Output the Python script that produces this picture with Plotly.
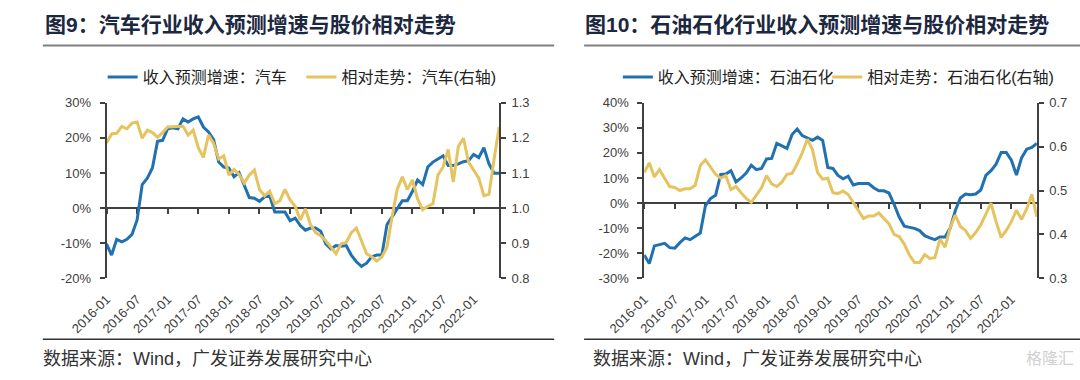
import plotly.graph_objects as go

# ---------------- data ----------------
months = [f"{y}-{m:02d}" for y in range(2016, 2023) for m in range(1, 13)][:78]  # 2016-01 .. 2022-06
tick_labels = ["2016-01", "2016-07", "2017-01", "2017-07", "2018-01", "2018-07", "2019-01",
               "2019-07", "2020-01", "2020-07", "2021-01", "2021-07", "2022-01"]
left_pct_ticks = [-20, -10, 0, 10, 20, 30]
left_ratio_ticks = [0.8, 0.9, 1.0, 1.1, 1.2, 1.3]
right_pct_ticks = [-30, -20, -10, 0, 10, 20, 30, 40]
right_ratio_ticks = [0.3, 0.4, 0.5, 0.6, 0.7]

auto_rev_growth = [-10.2, -13.4, -8.9, -9.6, -8.9, -7.5, -3.4, 6.7, 8.5, 11.4, 19.0, 19.3, 22.6, 22.9, 22.6,
                   25.4, 24.5, 25.4, 26.0, 23.1, 21.7, 19.5, 13.1, 11.7, 11.4, 8.9, 10.1, 6.7, 3.0, 2.8,
                   1.9, 3.2, 3.5, -1.1, -1.1, -1.1, -3.6, -2.9, -5.0, -6.3, -5.7, -5.7, -6.6, -10.2, -11.6,
                   -10.7, -10.9, -10.7, -13.4, -15.3, -16.6, -15.7, -13.9, -13.4, -13.4, -4.7, -2.5, -0.2,
                   2.1, 2.1, 4.8, 8.0, 6.7, 11.7, 13.1, 14.0, 14.9, 12.1, 12.1, 12.6, 13.2, 13.5, 15.3,
                   14.4, 17.2, 12.6, 9.9, 9.9]
auto_rel_trend = [1.185, 1.211, 1.213, 1.233, 1.226, 1.242, 1.245, 1.199, 1.222, 1.215, 1.202, 1.215, 1.231,
                  1.231, 1.233, 1.233, 1.208, 1.222, 1.172, 1.144, 1.208, 1.185, 1.140, 1.149, 1.094, 1.110,
                  1.096, 1.071, 1.094, 1.108, 1.053, 1.035, 1.048, 1.012, 1.021, 1.053, 1.023, 1.005, 0.966,
                  0.998, 0.953, 0.930, 0.921, 0.907, 0.889, 0.870, 0.898, 0.902, 0.930, 0.943, 0.907, 0.870,
                  0.861, 0.849, 0.861, 0.889, 0.975, 1.053, 1.089, 1.053, 1.080, 1.026, 0.995, 1.005, 1.012,
                  1.094, 1.117, 1.167, 1.074, 1.176, 1.199, 1.131, 1.108, 1.085, 1.035, 1.039, 1.140, 1.231]

petro_rev_growth = [-20.7, -24.1, -17.1, -16.5, -16.1, -17.8, -18.0, -15.8, -13.9, -14.6, -13.3, -12.0, -1.1,
                    1.8, 3.1, 11.4, 11.6, 12.9, 8.4, 10.0, 12.0, 15.1, 13.3, 13.8, 17.6, 17.8, 23.8, 22.9,
                    21.8, 27.3, 29.5, 26.9, 26.1, 25.0, 26.3, 25.0, 14.2, 13.8, 11.0, 9.7, 10.7, 7.2, 7.8,
                    7.8, 7.8, 6.1, 4.9, 4.9, 4.0, -0.5, -5.6, -9.2, -9.5, -10.1, -11.0, -13.0, -13.9, -14.6,
                    -13.5, -13.5, -10.0, -3.1, 2.0, 3.6, 3.3, 3.6, 5.2, 11.0, 12.9, 15.5, 20.2, 20.2, 17.1,
                    11.2, 18.0, 21.5, 22.2, 23.8]
petro_rel_trend = [0.541, 0.563, 0.531, 0.548, 0.528, 0.509, 0.507, 0.500, 0.504, 0.504, 0.512, 0.557, 0.570,
                   0.553, 0.537, 0.528, 0.534, 0.502, 0.509, 0.495, 0.482, 0.473, 0.491, 0.506, 0.534, 0.515,
                   0.509, 0.519, 0.537, 0.539, 0.561, 0.586, 0.617, 0.593, 0.541, 0.526, 0.528, 0.495, 0.493,
                   0.499, 0.491, 0.473, 0.453, 0.436, 0.442, 0.442, 0.449, 0.436, 0.424, 0.400, 0.395, 0.378,
                   0.353, 0.336, 0.336, 0.354, 0.345, 0.347, 0.389, 0.371, 0.415, 0.444, 0.418, 0.409, 0.391,
                   0.404, 0.422, 0.446, 0.471, 0.429, 0.393, 0.409, 0.429, 0.455, 0.434, 0.458, 0.491, 0.440]

BLUE = "#2171b0"
GOLD = "#e5c35f"
AXC = "#404040"
FONT = "Liberation Sans, Noto Sans CJK SC, sans-serif"
W, H = 1080, 380


def px_x(x):
    return x / W


def px_y(y):
    return 1 - y / H


fig = go.Figure()
empty = [None] * len(months)

# ---- left chart ----
fig.add_trace(go.Scatter(x=months, y=auto_rev_growth, name="收入预测增速：汽车", mode="lines",
                         line=dict(color=BLUE, width=3), xaxis="x", yaxis="y", legend="legend"))
fig.add_trace(go.Scatter(x=months, y=auto_rel_trend, name="相对走势：汽车(右轴)", mode="lines",
                         line=dict(color=GOLD, width=3), xaxis="x", yaxis="y2", legend="legend2"))
fig.add_trace(go.Scatter(x=months, y=empty, xaxis="x2", yaxis="y", showlegend=False, hoverinfo="skip",
                         mode="lines"))

# ---- right chart ----
fig.add_trace(go.Scatter(x=months, y=petro_rev_growth, name="收入预测增速：石油石化", mode="lines",
                         line=dict(color=BLUE, width=3), xaxis="x3", yaxis="y3", legend="legend3"))
fig.add_trace(go.Scatter(x=months, y=petro_rel_trend, name="相对走势：石油石化(右轴)", mode="lines",
                         line=dict(color=GOLD, width=3), xaxis="x3", yaxis="y4", legend="legend4"))
fig.add_trace(go.Scatter(x=months, y=empty, xaxis="x4", yaxis="y3", showlegend=False, hoverinfo="skip",
                         mode="lines"))

ybot, ytop = px_y(282.4), px_y(99.7)
dom_l = [px_x(71), px_x(478)]
dom_r = [px_x(628.3), px_x(1035.3)]
zero_l = ybot + 0.4 * (ytop - ybot)
zero_r = ybot + (3 / 7) * (ytop - ybot)

xline = dict(type="category", range=[0, 77], showgrid=False, zeroline=False, showline=True,
             linecolor=AXC, linewidth=1.5, ticks="outside", ticklen=5, tickwidth=1.5, tickcolor=AXC,
             tickvals=tick_labels, showticklabels=False, anchor="free", layer="below traces")
xlab = dict(type="category", range=[0, 77], showgrid=False, zeroline=False, showline=False, ticks="",
            tickvals=tick_labels, ticktext=tick_labels, tickangle=-45, ticklabelstandoff=10,
            tickfont=dict(family=FONT, size=13, color=AXC))
yax = dict(showgrid=False, zeroline=False, showline=True, linecolor=AXC, linewidth=1.5,
           ticks="outside", ticklen=5, tickwidth=1.5, tickcolor=AXC,
           tickfont=dict(family=FONT, size=13, color=AXC), domain=[ybot, ytop])


def pct(v):
    return [f"{t}%" for t in v]


def one(v):
    return [f"{t:.1f}" for t in v]


def leg(xpx):
    return dict(orientation="h", x=px_x(xpx), y=px_y(73), xanchor="left", yanchor="middle",
                font=dict(family=FONT, size=16, color="#222"), bgcolor="rgba(0,0,0,0)")


fig.update_layout(
    width=W, height=H, margin=dict(l=0, r=0, t=0, b=0),
    paper_bgcolor="white", plot_bgcolor="white",
    font=dict(family=FONT, color="#222"),
    xaxis=dict(xline, domain=dom_l, position=zero_l),
    xaxis2=dict(xlab, domain=dom_l, overlaying="x", anchor="y"),
    yaxis=dict(yax, range=[-20, 30], tickvals=left_pct_ticks, ticktext=pct(left_pct_ticks), anchor="x",
               ticklabelstandoff=6),
    yaxis2=dict(yax, range=[0.8, 1.3], tickvals=left_ratio_ticks, ticktext=one(left_ratio_ticks),
                side="right", overlaying="y", anchor="x", ticklabelstandoff=3),
    xaxis3=dict(xline, domain=dom_r, position=zero_r),
    xaxis4=dict(xlab, domain=dom_r, overlaying="x3", anchor="y3"),
    yaxis3=dict(yax, range=[-30, 40], tickvals=right_pct_ticks, ticktext=pct(right_pct_ticks),
                anchor="x3", ticklabelstandoff=6),
    yaxis4=dict(yax, range=[0.3, 0.7], tickvals=right_ratio_ticks, ticktext=one(right_ratio_ticks),
                side="right", overlaying="y3", anchor="x3", ticklabelstandoff=3),
    legend=leg(67), legend2=leg(273), legend3=leg(601), legend4=leg(818),
    showlegend=True,
)

# titles, rules, footers
title_font = dict(family=FONT, size=21, color="#1c2740")
fig.add_annotation(text="<b>图9：汽车行业收入预测增速与股价相对走势</b>", x=px_x(5), y=px_y(18),
                   xref="paper", yref="paper", xanchor="left", yanchor="middle", showarrow=False,
                   font=title_font)
fig.add_annotation(text="<b>图10：石油石化行业收入预测增速与股价相对走势</b>", x=px_x(565), y=px_y(18),
                   xref="paper", yref="paper", xanchor="left", yanchor="middle", showarrow=False,
                   font=title_font)
for x0, x1 in [(5, 535), (566, 1080)]:
    fig.add_shape(type="line", xref="paper", yref="paper", x0=px_x(x0), x1=px_x(x1),
                  y0=px_y(40), y1=px_y(40), line=dict(color="#808080", width=2))
    fig.add_shape(type="line", xref="paper", yref="paper", x0=px_x(x0), x1=px_x(x1),
                  y0=px_y(346), y1=px_y(346), line=dict(color="#333333", width=1.5))
foot_font = dict(family=FONT, size=18, color="#333")
for xs in (3, 573):
    fig.add_annotation(text="数据来源：Wind，广发证券发展研究中心", x=px_x(xs), y=px_y(366),
                       xref="paper", yref="paper", xanchor="left", yanchor="middle", showarrow=False,
                       font=foot_font)
fig.add_annotation(text="格隆汇", x=px_x(1076), y=px_y(366), xref="paper", yref="paper",
                   xanchor="right", yanchor="middle", showarrow=False,
                   font=dict(family=FONT, size=16, color="#d0d0d0"))

fig.write_html("out.html", config={"displayModeBar": False},
               post_script="document.body.style.margin='0';document.body.style.padding='0';")
